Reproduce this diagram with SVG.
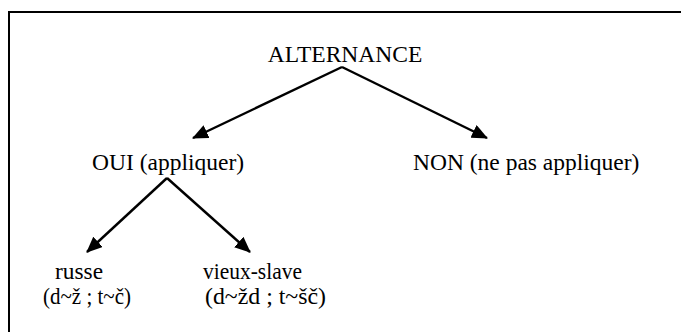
<svg xmlns="http://www.w3.org/2000/svg" width="681" height="332" viewBox="0 0 681 332">
  <style>
    .lbl { font-family: "Liberation Serif", "Times New Roman", serif; font-size: 23.5px; fill: #000; }
    .leaf { font-size: 22.5px; }
    .edge { stroke: #000; stroke-width: 2.4; fill: none; marker-end: url(#arrow); }
    .frame { stroke: #000; stroke-width: 2; fill: #fff; }
  </style>
  <defs>
    <marker id="arrow" viewBox="0 0 16 14" markerWidth="16" markerHeight="14" refX="15" refY="7" orient="auto" markerUnits="userSpaceOnUse">
      <path d="M0,0 L16,7 L0,14 z" fill="#000"/>
    </marker>
  </defs>

  <!-- outer frame (right and bottom edges run off the page) -->
  <rect class="frame" x="9" y="12" width="700" height="340"/>

  <g id="connectors">
    <path class="edge" d="M342,67 L193,138"/>
    <path class="edge" d="M342,67 L487,138"/>
    <path class="edge" d="M167,178 L87,252"/>
    <path class="edge" d="M167,178 L250,252"/>
  </g>

  <g id="alternance">
    <text class="lbl" x="345" y="62" text-anchor="middle">ALTERNANCE</text>
  </g>
  <g id="oui">
    <text class="lbl" x="92" y="170">OUI (appliquer)</text>
  </g>
  <g id="non">
    <text class="lbl" x="413" y="170">NON (ne pas appliquer)</text>
  </g>
  <g id="russe">
    <text class="lbl leaf" x="55" y="279" textLength="48" lengthAdjust="spacingAndGlyphs">russe</text>
    <text class="lbl leaf" x="43" y="304" textLength="88" lengthAdjust="spacingAndGlyphs">(d~ž ; t~č)</text>
  </g>
  <g id="vieux-slave">
    <text class="lbl leaf" x="203" y="279" textLength="99" lengthAdjust="spacingAndGlyphs">vieux-slave</text>
    <text class="lbl leaf" x="205" y="304" textLength="121" lengthAdjust="spacingAndGlyphs">(d~žd ; t~šč)</text>
  </g>
</svg>
